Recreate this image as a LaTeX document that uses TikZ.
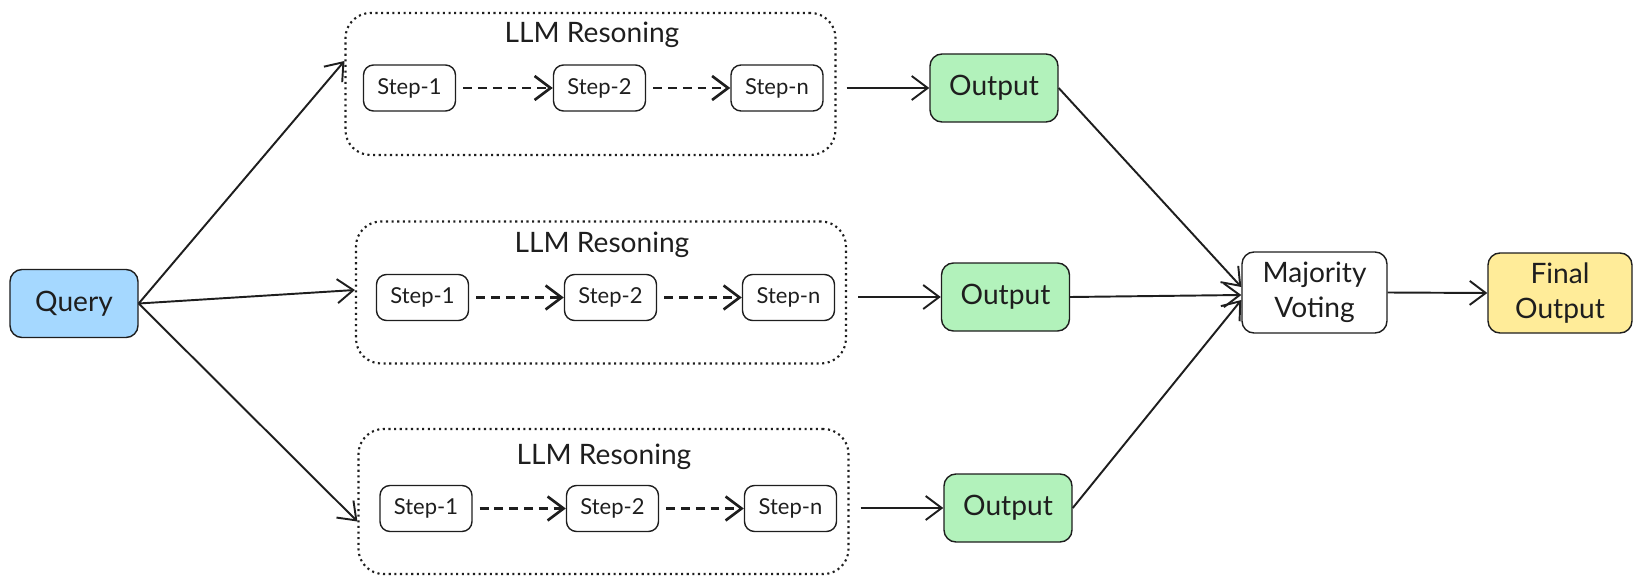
\documentclass[tikz,border=0pt]{standalone}
\usepackage{fontspec}
\setmainfont{Lato}
\usetikzlibrary{arrows.meta,positioning}
\definecolor{querycol}{HTML}{A5D8FF}
\definecolor{outcol}{HTML}{B2F2BB}
\definecolor{finalcol}{HTML}{FFEC99}
\definecolor{inkcol}{HTML}{1E1E1E}
\tikzset{
  blk/.style={draw=inkcol, line width=0.8pt, rounded corners=0.24cm, minimum width=2.56cm,
    minimum height=1.36cm, align=center, text=inkcol, font=\fontsize{16}{20}\selectfont},
  stepbox/.style={draw=inkcol, line width=0.8pt, rounded corners=0.2cm, minimum width=1.84cm,
    minimum height=0.92cm, text=inkcol, font=\fontsize{12.5}{15}\selectfont},
  reason/.style={draw=inkcol, dotted, line width=1.2pt, rounded corners=0.5cm,
    minimum width=9.8cm, minimum height=2.84cm},
  title/.style={text=inkcol, font=\fontsize{16}{20}\selectfont},
  arr/.style={draw=inkcol, line width=1.1pt,
    -{Straight Barb[length=0.32cm, width=0.48cm, line width=1.1pt]}},
  dasharr/.style={draw=inkcol, line width=1.5pt, dash pattern=on 5pt off 3.4pt, shorten <=4pt,
    -{Straight Barb[length=0.32cm, width=0.48cm, line width=1.5pt]}},
}
\begin{document}
\begin{tikzpicture}
  \useasboundingbox (0,0) rectangle (32.84,11.68);
  % query
  \node[blk, fill=querycol] (query) at (1.48,5.61) {Query};
  % first reasoning chain
  \node[reason] (box1) at (11.81,10.00) {};
  \node[title] (title1) at (11.84,10.98) {LLM Resoning};
  \node[stepbox] (s11) at (8.19,9.92) {Step-1};
  \node[stepbox] (s12) at (11.99,9.92) {Step-2};
  \node[stepbox] (s1n) at (15.54,9.92) {Step-n};
  \draw[dasharr] (s11) -- (s12);
  \draw[dasharr] (s12) -- (s1n);
  % second reasoning chain
  \node[reason] (box2) at (12.02,5.83) {};
  \node[title] (title2) at (12.04,6.78) {LLM Resoning};
  \node[stepbox] (s21) at (8.45,5.73) {Step-1};
  \node[stepbox] (s22) at (12.21,5.73) {Step-2};
  \node[stepbox] (s2n) at (15.77,5.73) {Step-n};
  \draw[dasharr] (s21) -- (s22);
  \draw[dasharr] (s22) -- (s2n);
  % third reasoning chain
  \node[reason, minimum height=2.9cm] (box3) at (12.07,1.65) {};
  \node[title] (title3) at (12.08,2.54) {LLM Resoning};
  \node[stepbox] (s31) at (8.52,1.51) {Step-1};
  \node[stepbox] (s32) at (12.25,1.51) {Step-2};
  \node[stepbox] (s3n) at (15.81,1.51) {Step-n};
  \draw[dasharr] (s31) -- (s32);
  \draw[dasharr] (s32) -- (s3n);
  % outputs and voting
  \node[blk, fill=outcol] (out1) at (19.88,9.92) {Output};
  \node[blk, fill=outcol] (out2) at (20.11,5.74) {Output};
  \node[blk, fill=outcol] (out3) at (20.16,1.52) {Output};
  \node[blk, fill=white, minimum width=2.9cm, minimum height=1.62cm] (maj) at (26.29,5.83) {Majority\\Voting};
  \node[blk, fill=finalcol, minimum width=2.88cm, minimum height=1.6cm] (fin) at (31.2,5.82) {Final\\Output};
  % connectors
  \draw[arr] (query.east) -- ([yshift=0.46cm]box1.west);
  \draw[arr] (query.east) -- ([yshift=0.05cm]box2.west);
  \draw[arr] (query.east) -- ([yshift=-0.4cm]box3.west);
  \draw[arr, shorten <=0.2cm] (box1.east |- out1) -- (out1.west);
  \draw[arr, shorten <=0.22cm] (box2.east |- out2) -- (out2.west);
  \draw[arr, shorten <=0.22cm] (box3.east |- out3) -- (out3.west);
  \draw[arr] (out1.east) -- ([yshift=0.11cm]maj.west);
  \draw[arr] (out2.east) -- ([yshift=-0.05cm]maj.west);
  \draw[arr] (out3.east) -- ([yshift=-0.15cm]maj.west);
  \draw[arr] (maj.east) -- (fin.west);
\end{tikzpicture}
\end{document}
